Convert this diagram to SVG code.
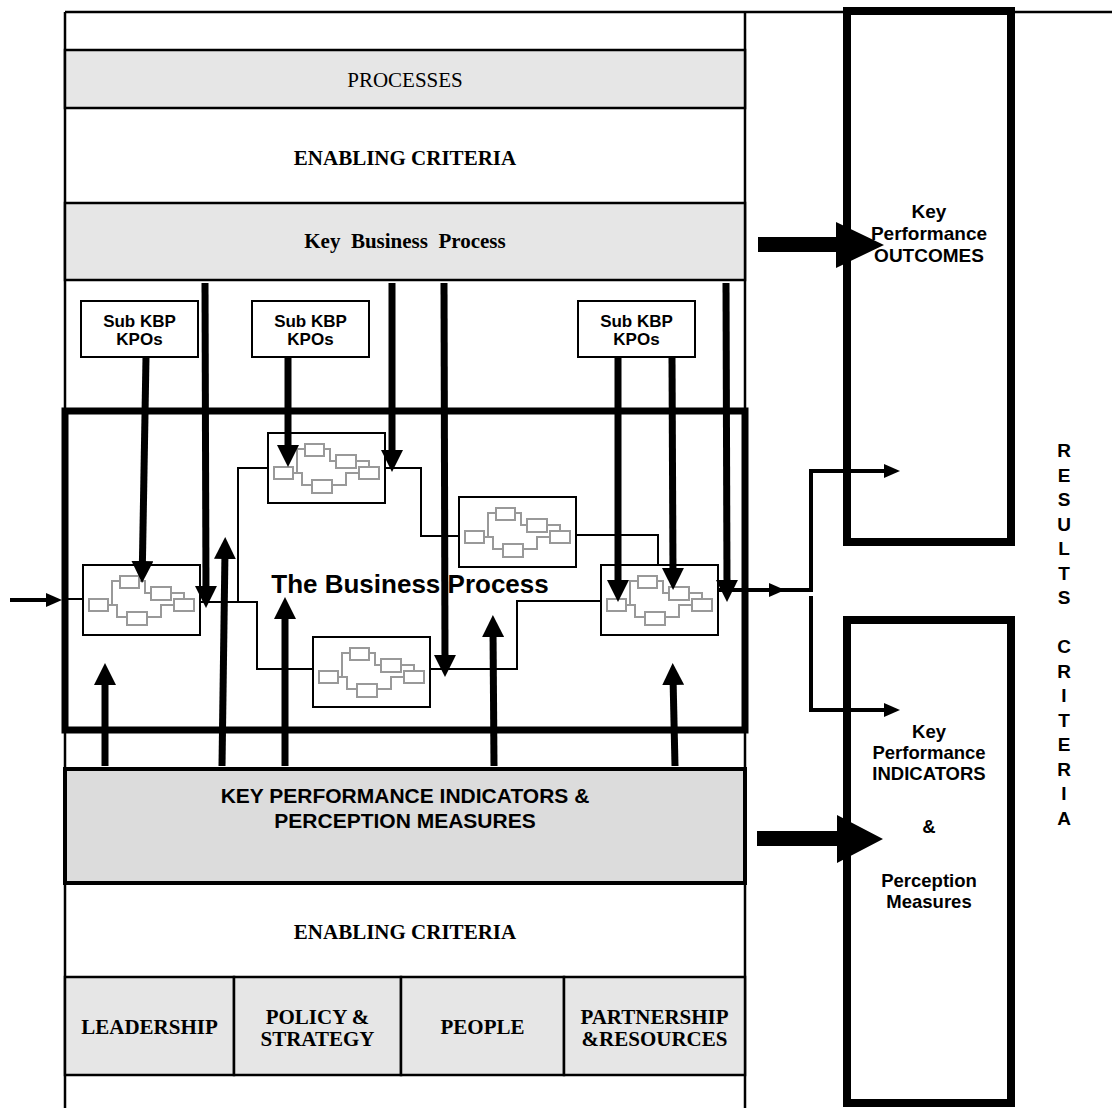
<svg xmlns="http://www.w3.org/2000/svg" xmlns:xlink="http://www.w3.org/1999/xlink" width="1112" height="1108" viewBox="0 0 1112 1108">
<style>
.fr{fill:none;stroke:#000;stroke-width:2.5}
.row{fill:#e6e6e6;stroke:#000;stroke-width:2.5}
.serif{font-family:"Liberation Serif","Times New Roman",serif;font-size:21px;text-anchor:middle;fill:#000}
.b{font-weight:bold}
.sans{font-family:"Liberation Sans",Arial,sans-serif;font-weight:bold;text-anchor:middle;fill:#000}
.thick{stroke:#000;stroke-width:7;fill:none}
.thin{stroke:#000;stroke-width:2;fill:none}
.med{stroke:#000;stroke-width:4;fill:none}
.mini{fill:#fff;stroke:#000;stroke-width:2}
.sub{fill:#fff;stroke:#000;stroke-width:2}
.fbox{fill:#fff;stroke:#999;stroke-width:2}
.fl{fill:none;stroke:#999;stroke-width:2}
.res{fill:none;stroke:#000;stroke-width:8}
</style>
<defs>
<marker id="big" markerUnits="userSpaceOnUse" markerWidth="22" markerHeight="22" viewBox="0 0 22 22" refX="8" refY="11" orient="auto"><path d="M0,0 L22,11 L0,22 z" fill="#000"/></marker>
<marker id="sm" markerUnits="userSpaceOnUse" markerWidth="16" markerHeight="14" viewBox="0 0 16 14" refX="6" refY="7" orient="auto"><path d="M0,0 L16,7 L0,14 z" fill="#000"/></marker>
<g id="flow">
<path class="fl" d="M25,40 H29 V16 H37 M29,40 H34 V52 H44 M56,16 H62 V28 H68 M88,28 H101 V34 M64,52 H78 V40 H91"/>
<rect class="fbox" x="6" y="34" width="19" height="12"/>
<rect class="fbox" x="37" y="11" width="19" height="12"/>
<rect class="fbox" x="68" y="22" width="20" height="13"/>
<rect class="fbox" x="91" y="34" width="20" height="12"/>
<rect class="fbox" x="44" y="47" width="20" height="13"/>
</g>
</defs>
<rect width="1112" height="1108" fill="#fff"/>

<g id="frame">
<line class="fr" x1="65" y1="12" x2="1112" y2="12"/>
<line class="fr" x1="65" y1="12" x2="65" y2="1108"/>
<line class="fr" x1="745" y1="12" x2="745" y2="1108"/>
</g>

<g id="processes">
<rect class="row" x="65" y="50" width="680" height="58"/>
<text class="serif" x="405" y="87">PROCESSES</text>
</g>
<g id="enabling-top">
<text class="serif b" x="405" y="165">ENABLING CRITERIA</text>
</g>
<g id="kbp">
<rect class="row" x="65" y="203" width="680" height="77"/>
<text class="serif b" x="405" y="248">Key&#160; Business&#160; Process</text>
</g>

<g id="sub1">
<rect class="sub" x="81" y="301" width="117" height="56"/>
<text class="sans" font-size="17" x="139.5" y="327">Sub KBP</text>
<text class="sans" font-size="17" x="139.5" y="345">KPOs</text>
</g>
<g id="sub2">
<rect class="sub" x="252" y="301" width="117" height="56"/>
<text class="sans" font-size="17" x="310.5" y="327">Sub KBP</text>
<text class="sans" font-size="17" x="310.5" y="345">KPOs</text>
</g>
<g id="sub3">
<rect class="sub" x="578" y="301" width="117" height="56"/>
<text class="sans" font-size="17" x="636.5" y="327">Sub KBP</text>
<text class="sans" font-size="17" x="636.5" y="345">KPOs</text>
</g>

<g id="business-process">
<rect x="65" y="411" width="680" height="319" fill="none" stroke="#000" stroke-width="7"/>
<text class="sans" font-size="26" x="410" y="593">The Business Process</text>
</g>

<g id="p1"><rect class="mini" x="83" y="565" width="117" height="70"/><use xlink:href="#flow" x="83" y="565"/></g>
<g id="p2"><rect class="mini" x="268" y="433" width="117" height="70"/><use xlink:href="#flow" x="268" y="433"/></g>
<g id="p3"><rect class="mini" x="459" y="497" width="117" height="70"/><use xlink:href="#flow" x="459" y="497"/></g>
<g id="p4"><rect class="mini" x="313" y="637" width="117" height="70"/><use xlink:href="#flow" x="313" y="637"/></g>
<g id="p5"><rect class="mini" x="601" y="565" width="117" height="70"/><use xlink:href="#flow" x="601" y="565"/></g>

<g id="kpi">
<rect x="65" y="769" width="680" height="114" fill="#dcdcdc" stroke="#000" stroke-width="4"/>
<text class="sans" font-size="21" x="405" y="803">KEY PERFORMANCE INDICATORS &amp;</text>
<text class="sans" font-size="21" x="405" y="828">PERCEPTION MEASURES</text>
</g>

<g id="enabling-bottom">
<text class="serif b" x="405" y="939">ENABLING CRITERIA</text>
</g>

<g id="leadership">
<rect class="row" x="65" y="977" width="169" height="98"/>
<text class="serif b" x="149.5" y="1034">LEADERSHIP</text>
</g>
<g id="policy">
<rect class="row" x="234" y="977" width="167" height="98"/>
<text class="serif b" x="317.5" y="1024">POLICY &amp;</text>
<text class="serif b" x="317.5" y="1046">STRATEGY</text>
</g>
<g id="people">
<rect class="row" x="401" y="977" width="163" height="98"/>
<text class="serif b" x="482.5" y="1034">PEOPLE</text>
</g>
<g id="partnership">
<rect class="row" x="564" y="977" width="181" height="98"/>
<text class="serif b" x="654.5" y="1024">PARTNERSHIP</text>
<text class="serif b" x="654.5" y="1046">&amp;RESOURCES</text>
</g>

<g id="kpo-outcomes">
<rect class="res" x="847" y="11" width="164" height="531"/>
<text class="sans" font-size="19" x="929" y="218">Key</text>
<text class="sans" font-size="19" x="929" y="240">Performance</text>
<text class="sans" font-size="19" x="929" y="262">OUTCOMES</text>
</g>

<g id="kpi-results">
<rect class="res" x="847" y="620" width="164" height="483"/>
<text class="sans" font-size="18.5" x="929" y="738">Key</text>
<text class="sans" font-size="18.5" x="929" y="759">Performance</text>
<text class="sans" font-size="18.5" x="929" y="780">INDICATORS</text>
<text class="sans" font-size="18.5" x="929" y="833">&amp;</text>
<text class="sans" font-size="18.5" x="929" y="887">Perception</text>
<text class="sans" font-size="18.5" x="929" y="908">Measures</text>
</g>

<g id="results-criteria">
<text class="sans" font-size="19" x="1064" y="457">R<tspan x="1064" dy="24.5">E</tspan><tspan x="1064" dy="24.5">S</tspan><tspan x="1064" dy="24.5">U</tspan><tspan x="1064" dy="24.5">L</tspan><tspan x="1064" dy="24.5">T</tspan><tspan x="1064" dy="24.5">S</tspan><tspan x="1064" dy="49">C</tspan><tspan x="1064" dy="24.5">R</tspan><tspan x="1064" dy="24.5">I</tspan><tspan x="1064" dy="24.5">T</tspan><tspan x="1064" dy="24.5">E</tspan><tspan x="1064" dy="24.5">R</tspan><tspan x="1064" dy="24.5">I</tspan><tspan x="1064" dy="24.5">A</tspan></text>
</g>

<g id="connectors">
<!-- thin process flow -->
<path class="thin" d="M65,599 H83"/>
<path class="thin" d="M200,602 H257 V669 H313"/>
<path class="thin" d="M238,602 V468 H268"/>
<path class="thin" d="M385,468 H421 V536 H459"/>
<path class="thin" d="M576,535 H658 V565"/>
<path class="thin" d="M430,669 H517 V601 H601"/>
<!-- input arrow -->
<path class="med" d="M10,600 H52" marker-end="url(#sm)"/>
<!-- output branches -->
<path class="med" stroke-width="5" d="M718,590 H775 H811" marker-mid="url(#sm)"/>
<path class="med" d="M811,592 V471 H890" marker-end="url(#sm)"/>
<path class="med" d="M811,596 V710 H890" marker-end="url(#sm)"/>
<!-- thick down arrows -->
<line class="thick" x1="146" y1="357" x2="142.3" y2="569" marker-end="url(#big)"/>
<line class="thick" x1="205" y1="283" x2="206" y2="594" marker-end="url(#big)"/>
<line class="thick" x1="288" y1="357" x2="288" y2="453" marker-end="url(#big)"/>
<line class="thick" x1="392" y1="283" x2="392" y2="458" marker-end="url(#big)"/>
<line class="thick" x1="444" y1="283" x2="445" y2="663" marker-end="url(#big)"/>
<line class="thick" x1="618" y1="357" x2="618" y2="588" marker-end="url(#big)"/>
<line class="thick" x1="672" y1="357" x2="673" y2="576" marker-end="url(#big)"/>
<line class="thick" x1="726" y1="283" x2="727" y2="588" marker-end="url(#big)"/>
<!-- thick up arrows -->
<line class="thick" x1="105" y1="766" x2="105" y2="677" marker-end="url(#big)"/>
<line class="thick" x1="222" y1="766" x2="225" y2="551" marker-end="url(#big)"/>
<line class="thick" x1="285" y1="766" x2="285" y2="611" marker-end="url(#big)"/>
<line class="thick" x1="494" y1="766" x2="493" y2="629" marker-end="url(#big)"/>
<line class="thick" x1="675" y1="766" x2="673" y2="677" marker-end="url(#big)"/>
<!-- block arrows -->
<path d="M758,237 H836 V222 L884,245 L836,268 V252 H758 Z" fill="#000"/>
<path d="M757,831 H837 V815 L883,839 L837,863 V846 H757 Z" fill="#000"/>
</g>
</svg>
